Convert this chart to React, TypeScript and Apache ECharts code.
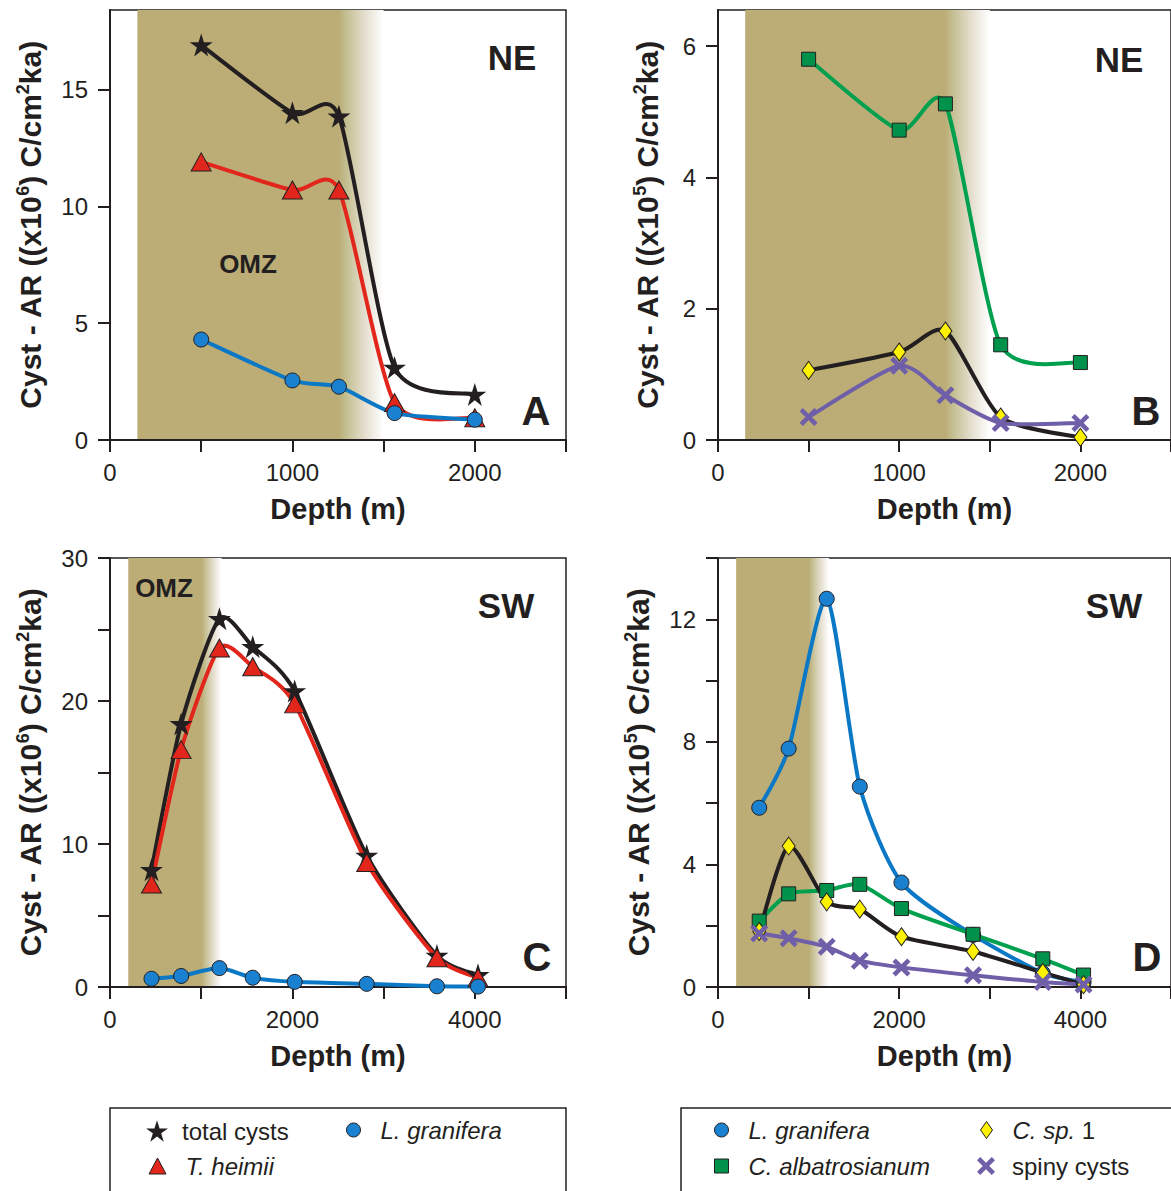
import React, { useEffect, useRef } from 'react';
import * as echarts from 'echarts';

// ---------- data ----------
const depthNE = [500, 1000, 1255, 1560, 2000];
const depthSW = [455, 780, 1200, 1565, 2025, 2815, 3585, 4035];

// Panel A (x10^6)
const aTotal = [16.9, 14.0, 13.85, 3.1, 1.95];
const aTheimii = [11.9, 10.7, 10.7, 1.6, 0.95];
const aLgran = [4.3, 2.55, 2.28, 1.15, 0.87];

// Panel B (x10^5)
const bCalb = [5.8, 4.72, 5.12, 1.45, 1.18];
const bCsp1 = [1.06, 1.34, 1.66, 0.35, 0.04];
const bSpiny = [0.35, 1.13, 0.68, 0.26, 0.26];

// Panel C (x10^6)
const cTotal = [8.2, 18.4, 25.75, 23.8, 20.7, 9.2, 2.2, 0.85];
const cTheimii = [7.2, 16.6, 23.7, 22.4, 19.8, 8.7, 2.05, 0.65];
const cLgran = [0.58, 0.77, 1.32, 0.65, 0.36, 0.22, 0.05, 0.03];

// Panel D (x10^5)
const dLgran = [5.85, 7.78, 12.67, 6.54, 3.41, 1.7, 0.45, 0.15];
const dCalb = [2.15, 3.04, 3.15, 3.35, 2.56, 1.72, 0.92, 0.39];
const dCsp1 = [1.81, 4.6, 2.78, 2.54, 1.64, 1.16, 0.47, 0.08];
const dSpiny = [1.75, 1.59, 1.31, 0.86, 0.64, 0.38, 0.16, 0.08];

// OMZ extents: start, end of solid, end of fade
const omzNE = [150, 1255, 1500];
const omzSW = [200, 1005, 1225];

// axes
const xMaxNE = 2500;
const xMaxSW = 5000;
const xTicksNE = [0, 500, 1000, 1500, 2000, 2500];
const xLabelsNE = [0, 1000, 2000];
const xTicksSW = [0, 1000, 2000, 3000, 4000, 5000];
const xLabelsSW = [0, 2000, 4000];
const yMaxes = [18.4, 6.55, 30, 14];
const yTicks = [[0, 5, 10, 15], [0, 2, 4, 6], [0, 5, 10, 15, 20, 25, 30], [0, 2, 4, 6, 8, 10, 12, 14]];
const yLabels = [[0, 5, 10, 15], [0, 2, 4, 6], [0, 10, 20, 30], [0, 4, 8, 12]];
const yExponents = ['6', '5', '6', '5'];

// ---------- styles ----------
const FONT = '"Liberation Sans", Arial, Helvetica, sans-serif';
const INK = '#231f20';
const RED = '#e3261c';
const BLUE_LINE = '#0b78c6';
const BLUE_FILL = '#1a80d0';
const GREEN_LINE = '#00a04f';
const GREEN_FILL = '#00914a';
const YELLOW = '#fff200';
const PURPLE = '#6f5fa8';
const OMZ = '#bcad76';
const TENSION = 0.7;

const STAR = 'path://M50,0 L61.5,36 L99,36 L68.5,58 L80,95 L50,72 L20,95 L31.5,58 L1,36 L38.5,36 Z';
const CROSS = 'path://M0,18 L18,0 L50,32 L82,0 L100,18 L68,50 L100,82 L82,100 L50,68 L18,100 L0,82 L32,50 Z';

const grids = [
  { left: 110, top: 10, width: 456, height: 430 },
  { left: 718, top: 10, width: 456, height: 430 },
  { left: 110, top: 558, width: 456, height: 429 },
  { left: 718, top: 558, width: 456, height: 429 },
];

// smooth curve (Catmull-Rom through the data points, in pixel space via api.coord)
function mkCurve(name: string, xs: number[], ys: number[], gi: number, color: string) {
  return {
    type: 'custom',
    name: name + ' curve',
    coordinateSystem: 'cartesian2d',
    xAxisIndex: gi,
    yAxisIndex: gi,
    data: xs.map((x, i) => [x, ys[i]]),
    encode: { x: 0, y: 1 },
    clip: false,
    silent: true,
    z: 2,
    renderItem: (params: any, api: any) => {
      if (params.dataIndex !== 0) return null;
      const p = xs.map((x, i) => api.coord([x, ys[i]]));
      const n = p.length;
      let d = `M${p[0][0]},${p[0][1]}`;
      for (let i = 0; i < n - 1; i++) {
        const p0 = p[Math.max(i - 1, 0)];
        const p1 = p[i];
        const p2 = p[i + 1];
        const p3 = p[Math.min(i + 2, n - 1)];
        const c1x = p1[0] + ((p2[0] - p0[0]) / 6) * TENSION;
        const c1y = p1[1] + ((p2[1] - p0[1]) / 6) * TENSION;
        const c2x = p2[0] - ((p3[0] - p1[0]) / 6) * TENSION;
        const c2y = p2[1] - ((p3[1] - p1[1]) / 6) * TENSION;
        d += ` C${c1x},${c1y} ${c2x},${c2y} ${p2[0]},${p2[1]}`;
      }
      return {
        type: 'path',
        shape: { pathData: d },
        style: { stroke: color, lineWidth: 4, fill: 'none', lineJoin: 'round', lineCap: 'round' },
      };
    },
  };
}

function mkMarkers(name: string, xs: number[], ys: number[], gi: number,
  symbol: string, size: number | number[], fill: string, border: boolean) {
  return {
    type: 'scatter',
    name,
    xAxisIndex: gi,
    yAxisIndex: gi,
    data: xs.map((x, i) => [x, ys[i]]),
    clip: false,
    symbol,
    symbolSize: size,
    itemStyle: { color: fill, borderColor: INK, borderWidth: border ? 1 : 0, opacity: 1 },
    emphasis: { disabled: true },
    silent: true,
    z: 2,
  };
}

function mkPair(name: string, xs: number[], ys: number[], gi: number, lineColor: string,
  symbol: string, size: number | number[], fill: string, border: boolean) {
  return [mkCurve(name, xs, ys, gi, lineColor), mkMarkers(name, xs, ys, gi, symbol, size, fill, border)];
}

function omzSeries(gi: number, omz: number[]) {
  const stop = (omz[1] - omz[0]) / (omz[2] - omz[0]);
  return {
    type: 'line',
    name: 'omz' + gi,
    xAxisIndex: gi,
    yAxisIndex: gi,
    data: [],
    z: 0,
    silent: true,
    markArea: {
      silent: true,
      z: 0,
      itemStyle: {
        color: new echarts.graphic.LinearGradient(0, 0, 1, 0, [
          { offset: 0, color: OMZ },
          { offset: stop, color: OMZ },
          { offset: stop + (1 - stop) * 0.15, color: '#c3bd8f' },
          { offset: stop + (1 - stop) * 0.55, color: '#e2dccb' },
          { offset: 1, color: '#ffffff' },
        ]),
      },
      data: [[{ xAxis: omz[0] }, { xAxis: omz[2] }]],
    },
  };
}

function buildOption() {
  const xAxes = grids.map((_, i) => {
    const ne = i < 2;
    return {
      type: 'value',
      gridIndex: i,
      min: 0,
      max: ne ? xMaxNE : xMaxSW,
      name: 'Depth (m)',
      nameLocation: 'middle',
      nameGap: 54,
      nameTextStyle: { fontFamily: FONT, fontSize: 29, fontWeight: 'bold', color: INK },
      axisLine: { show: true, onZero: false, lineStyle: { color: INK, width: 2 } },
      axisTick: { show: true, length: 12, lineStyle: { color: INK, width: 2 }, customValues: ne ? xTicksNE : xTicksSW },
      axisLabel: {
        margin: 20, fontFamily: FONT, fontSize: 24, color: INK,
        customValues: ne ? xLabelsNE : xLabelsSW,
        formatter: (v: number) => String(v),
      },
      splitLine: { show: false },
    };
  });
  const yAxes = grids.map((_, i) => ({
    type: 'value',
    gridIndex: i,
    min: 0,
    max: yMaxes[i],
    name: '{b|Cyst - AR ((x10}{s|' + yExponents[i] + '}{b|) C/cm}{s|2}{b|ka)}',
    nameLocation: 'middle',
    nameRotate: 90,
    nameGap: i === 1 ? 55 : 64,
    nameTextStyle: {
      color: INK,
      rich: {
        b: { fontFamily: FONT, fontSize: 30, fontWeight: 'bold', color: INK, lineHeight: 32 },
        s: { fontFamily: FONT, fontSize: 18, fontWeight: 'bold', color: INK, verticalAlign: 'top', lineHeight: 32 },
      },
    },
    axisLine: { show: true, onZero: false, lineStyle: { color: INK, width: 2 } },
    axisTick: { show: true, length: 12, lineStyle: { color: INK, width: 2 }, customValues: yTicks[i] },
    axisLabel: {
      margin: 22, fontFamily: FONT, fontSize: 24, color: INK,
      customValues: yLabels[i],
      formatter: (v: number) => String(v),
    },
    splitLine: { show: false },
  }));

  const series: any[] = [
    omzSeries(0, omzNE),
    omzSeries(1, omzNE),
    omzSeries(2, omzSW),
    omzSeries(3, omzSW),
    // A
    ...mkPair('total cysts', depthNE, aTotal, 0, INK, STAR, 23, INK, false),
    ...mkPair('T. heimii', depthNE, aTheimii, 0, RED, 'triangle', [20, 18], RED, true),
    ...mkPair('L. granifera', depthNE, aLgran, 0, BLUE_LINE, 'circle', 15, BLUE_FILL, true),
    // B
    ...mkPair('C. albatrosianum', depthNE, bCalb, 1, GREEN_LINE, 'rect', 14, GREEN_FILL, true),
    ...mkPair('C. sp. 1', depthNE, bCsp1, 1, INK, 'diamond', [13, 18], YELLOW, true),
    ...mkPair('spiny cysts', depthNE, bSpiny, 1, PURPLE, CROSS, 18, PURPLE, false),
    // C
    ...mkPair('total cysts', depthSW, cTotal, 2, INK, STAR, 23, INK, false),
    ...mkPair('T. heimii', depthSW, cTheimii, 2, RED, 'triangle', [20, 18], RED, true),
    ...mkPair('L. granifera', depthSW, cLgran, 2, BLUE_LINE, 'circle', 15, BLUE_FILL, true),
    // D
    ...mkPair('L. granifera', depthSW, dLgran, 3, BLUE_LINE, 'circle', 15, BLUE_FILL, true),
    ...mkPair('C. albatrosianum', depthSW, dCalb, 3, GREEN_LINE, 'rect', 14, GREEN_FILL, true),
    ...mkPair('C. sp. 1', depthSW, dCsp1, 3, INK, 'diamond', [13, 18], YELLOW, true),
    ...mkPair('spiny cysts', depthSW, dSpiny, 3, PURPLE, CROSS, 18, PURPLE, false),
  ];

  const legendText = {
    fontFamily: FONT,
    fontSize: 24,
    color: INK,
    rich: {
      i: { fontFamily: FONT, fontSize: 24, fontStyle: 'italic', color: INK },
      n: { fontFamily: FONT, fontSize: 24, color: INK },
    },
  };
  const legendItem = (name: string, label: string, icon: string, w: number, h: number,
    cx: number, cy: number, textX: number, itemStyle: any) => ({
    show: true,
    selectedMode: false,
    left: cx - w / 2,
    top: cy - 14,
    padding: 0,
    itemWidth: w,
    itemHeight: h,
    data: [{ name, icon, itemStyle }],
    formatter: () => label,
    textStyle: { ...legendText, padding: [0, 0, 0, textX - (cx + w / 2 + 5)] },
  });
  const legend = [
    legendItem('total cysts', '{n|total cysts}', STAR, 22, 22, 157, 1133, 182, { color: INK, borderWidth: 0 }),
    legendItem('L. granifera', '{i|L. granifera}', 'circle', 14, 14, 353, 1132, 380, { color: BLUE_FILL, borderColor: INK, borderWidth: 1 }),
    legendItem('T. heimii', '{i|T. heimii}', 'triangle', 17, 16, 157, 1168, 185, { color: RED, borderColor: INK, borderWidth: 1 }),
    legendItem('L. granifera', '{i|L. granifera}', 'circle', 14, 14, 721, 1132, 748, { color: BLUE_FILL, borderColor: INK, borderWidth: 1 }),
    legendItem('C. sp. 1', '{i|C. sp.}{n| 1}', 'diamond', 12, 17, 986, 1132, 1012, { color: YELLOW, borderColor: INK, borderWidth: 1 }),
    legendItem('C. albatrosianum', '{i|C. albatrosianum}', 'rect', 14, 14, 721, 1168, 748, { color: GREEN_FILL, borderColor: INK, borderWidth: 1 }),
    legendItem('spiny cysts', '{n|spiny cysts}', CROSS, 18, 18, 986, 1168, 1012, { color: PURPLE, borderWidth: 0 }),
  ];

  const label = (text: string, x: number, y: number, size: number) => ({
    type: 'text',
    x,
    y,
    z: 100,
    silent: true,
    style: { text, fill: INK, font: `bold ${size}px ${FONT}`, textAlign: 'center', textVerticalAlign: 'middle' },
  });

  const graphic = [
    {
      type: 'rect', silent: true, z: 50,
      shape: { x: 110, y: 1108, width: 456, height: 120 },
      style: { fill: 'none', stroke: INK, lineWidth: 1.5 },
    },
    {
      type: 'rect', silent: true, z: 50,
      shape: { x: 681, y: 1108, width: 540, height: 120 },
      style: { fill: 'none', stroke: INK, lineWidth: 1.5 },
    },
    label('NE', 512, 57, 35),
    label('A', 536, 411, 40),
    label('OMZ', 248, 264, 26),
    label('NE', 1119, 59, 35),
    label('B', 1146, 411, 40),
    label('SW', 506, 605, 35),
    label('C', 537, 957, 40),
    label('OMZ', 164, 588, 26),
    label('SW', 1114, 605, 35),
    label('D', 1147, 957, 40),
  ];

  return {
    animation: false,
    backgroundColor: '#ffffff',
    grid: grids.map((g) => ({ ...g, show: true, borderColor: INK, borderWidth: 1.5, backgroundColor: 'transparent' })),
    xAxis: xAxes,
    yAxis: yAxes,
    legend,
    series,
    graphic,
  };
}

export default function App() {
  const ref = useRef<HTMLDivElement>(null);
  useEffect(() => {
    document.body.style.margin = '0';
    if (!ref.current) return;
    const chart = echarts.init(ref.current, undefined, { renderer: 'svg' });
    chart.setOption(buildOption() as any);
    return () => chart.dispose();
  }, []);
  return <div ref={ref} style={{ width: 1171, height: 1191 }} />;
}
